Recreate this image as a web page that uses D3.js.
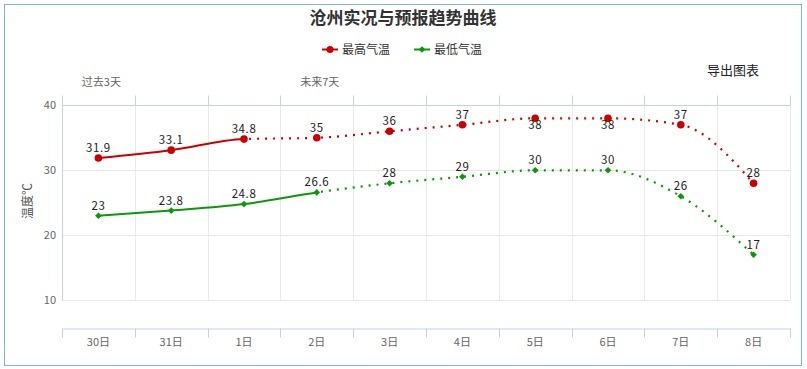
<!DOCTYPE html>
<html><head><meta charset="utf-8">
<script src="https://cdn.jsdelivr.net/npm/d3@7"></script>
<style>
body{margin:0;background:#fff;}
text{font-family:"Noto Sans CJK SC","Noto Sans",sans-serif;}
</style></head>
<body><svg id="c" width="807" height="369"></svg>
<script>
const categories = ["30日","31日","1日","2日","3日","4日","5日","6日","7日","8日"];
const highTemps = [31.9,33.1,34.8,35,36,37,38,38,37,28];
const lowTemps = [23,23.8,24.8,26.6,28,29,30,30,26,17];
const highObservedCount = 3; // solid until 1日
const lowObservedCount = 4;  // solid until 2日
const yTicks = [10,20,30,40];
const highLabelBelow = [false,false,false,false,false,false,true,true,false,false];
const periodLabels = ["过去3天","未来7天"];

(function(){
const svg = d3.select("#c");
const pLeft=62, pRight=790, pTop=105.3, pBottom=300.3;
const x = d3.scaleBand().domain(categories).range([pLeft,pRight]);
const cx = d => x(d)+x.bandwidth()/2;
const y = d3.scaleLinear().domain([10,40]).range([pBottom,pTop]);

svg.append("rect").attr("x",4.5).attr("y",4.5).attr("width",797).attr("height",361)
  .attr("fill","none").attr("stroke","#7fb3e6").attr("stroke-width",1);

svg.append("text").attr("x",403).attr("y",24).attr("text-anchor","middle")
  .attr("font-size",17).attr("font-weight","bold").attr("fill","#333").text("沧州实况与预报趋势曲线");

svg.append("text").attr("x",707).attr("y",75).attr("font-size",13).attr("fill","#222").text("导出图表");

const grid = svg.append("g");
const bounds = categories.map(c=>x(c)).concat([pRight]);
grid.selectAll("line.v").data(bounds.slice(1)).enter().append("line")
  .attr("x1",d=>Math.round(d)+0.5).attr("x2",d=>Math.round(d)+0.5)
  .attr("y1",pTop).attr("y2",pBottom).attr("stroke","#ebebeb");
grid.selectAll("line.h").data(yTicks.filter(t=>t<40)).enter().append("line")
  .attr("x1",pLeft).attr("x2",pRight).attr("y1",d=>Math.round(y(d))+0.5).attr("y2",d=>Math.round(y(d))+0.5)
  .attr("stroke","#e6e6e6");

const axisColor="#c3d2e6";
const topAxis = svg.append("g").attr("transform",`translate(0,${Math.round(pTop)+0.5})`);
topAxis.append("line").attr("x1",pLeft).attr("x2",pRight).attr("stroke",axisColor);
topAxis.selectAll("line.t").data(bounds).enter().append("line")
  .attr("x1",d=>Math.round(d)+0.5).attr("x2",d=>Math.round(d)+0.5).attr("y1",0).attr("y2",-10).attr("stroke",axisColor);
svg.append("text").attr("x",cx(categories[0])+3).attr("y",86).attr("text-anchor","middle")
  .attr("font-size",11).attr("fill","#666").text(periodLabels[0]);
svg.append("text").attr("x",cx(categories[3])+3).attr("y",86).attr("text-anchor","middle")
  .attr("font-size",11).attr("fill","#666").text(periodLabels[1]);

svg.append("line").attr("x1",pLeft+0.5).attr("x2",pLeft+0.5).attr("y1",96).attr("y2",pBottom).attr("stroke",axisColor);
svg.selectAll("text.yt").data(yTicks).enter().append("text")
  .attr("x",56).attr("y",d=>y(d)+4).attr("text-anchor","end").attr("font-size",11)
  .attr("fill","#666").attr("font-family","Noto Sans, sans-serif").text(d=>d);
svg.append("text").attr("transform",`translate(32,201) rotate(-90)`).attr("text-anchor","middle")
  .attr("font-size",12).attr("fill","#555").text("温度℃");

const bAxis = d3.axisBottom(x).tickSize(0).tickPadding(10);
const bg = svg.append("g").attr("transform","translate(0,328.5)").call(bAxis);
bg.select(".domain").attr("stroke",axisColor);
bg.selectAll("text").attr("font-size",11).attr("fill","#666").attr("font-family","Noto Sans CJK SC, sans-serif");
bg.selectAll("line.bt").data(bounds).enter().append("line").attr("class","bt")
  .attr("x1",d=>Math.round(d)+0.5).attr("x2",d=>Math.round(d)+0.5).attr("y1",0).attr("y2",9).attr("stroke",axisColor);

const line = d3.line().x((d,i)=>cx(categories[i])).y(d=>y(d)).curve(d3.curveMonotoneX);
const defs = svg.append("defs");
const diamond = d3.symbol(d3.symbolSquare,22)();
function series(vals, obsCount, color, id, isCircle, labelBelow){
  const splitX = cx(categories[obsCount-1]);
  defs.append("clipPath").attr("id",id+"a").append("rect").attr("x",0).attr("y",0).attr("width",splitX).attr("height",369);
  defs.append("clipPath").attr("id",id+"b").append("rect").attr("x",splitX).attr("y",0).attr("width",807-splitX).attr("height",369);
  svg.append("path").attr("d",line(vals)).attr("fill","none").attr("stroke",color).attr("stroke-width",2)
    .attr("clip-path",`url(#${id}a)`);
  svg.append("path").attr("d",line(vals)).attr("fill","none").attr("stroke",color).attr("stroke-width",2.2)
    .attr("stroke-dasharray","2,6").attr("clip-path",`url(#${id}b)`);
  const g = svg.append("g");
  if(isCircle){
    g.selectAll("circle").data(vals).enter().append("circle")
      .attr("cx",(d,i)=>cx(categories[i])).attr("cy",d=>y(d)).attr("r",3.8).attr("fill",color);
  } else {
    g.selectAll("path").data(vals).enter().append("path")
      .attr("d",diamond)
      .attr("transform",(d,i)=>`translate(${cx(categories[i])},${y(d)}) rotate(45)`).attr("fill",color);
  }
  svg.append("g").selectAll("text").data(vals).enter().append("text")
    .attr("x",(d,i)=>cx(categories[i])).attr("y",(d,i)=>labelBelow[i]? y(d)+11 : y(d)-6)
    .attr("text-anchor","middle").attr("font-size",11.5).attr("fill","#222")
    .attr("font-family","Noto Sans, sans-serif").attr("letter-spacing",0.6)
    .text(d=>d);
}
series(highTemps, highObservedCount, "#cc0000", "hi", true, highLabelBelow);
series(lowTemps, lowObservedCount, "#0a990a", "lo", false, lowTemps.map(()=>false));

const leg = svg.append("g");
[["最高气温","#cc0000",322,true],["最低气温","#0a990a",414,false]].forEach(([t,c,lx,circ])=>{
  leg.append("line").attr("x1",lx).attr("x2",lx+16).attr("y1",49.5).attr("y2",49.5).attr("stroke",c).attr("stroke-width",2);
  if(circ) leg.append("circle").attr("cx",lx+8).attr("cy",49.5).attr("r",3.5).attr("fill",c);
  else leg.append("path").attr("d",diamond).attr("transform",`translate(${lx+8},49.5) rotate(45)`).attr("fill",c);
  leg.append("text").attr("x",lx+20).attr("y",54).attr("font-size",12).attr("fill","#333").text(t);
});
})();
</script></body></html>
